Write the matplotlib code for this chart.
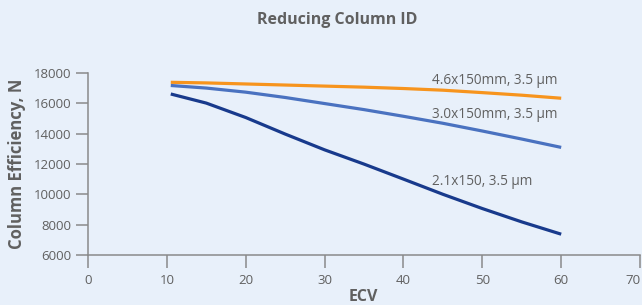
import matplotlib
matplotlib.use("Agg")
import matplotlib.pyplot as plt

# ============ DATOS ============
ECV = [10.5, 15, 20, 25, 30, 35, 40, 45, 50, 55, 60]
N_46 = [17380, 17340, 17270, 17200, 17130, 17060, 16970, 16860, 16700, 16530, 16330]
N_30 = [17170, 17000, 16730, 16380, 15980, 15580, 15140, 14680, 14170, 13640, 13090]
N_21 = [16610, 16010, 15060, 13970, 12930, 11990, 11000, 10000, 9060, 8180, 7370]

ETIQUETAS = ["4.6x150mm, 3.5 µm", "3.0x150mm, 3.5 µm", "2.1x150, 3.5 µm"]
ETIQ_X = [43.6, 43.6, 43.6]
ETIQ_Y = [17510, 15230, 10820]

X_TICKS = [0, 10, 20, 30, 40, 50, 60, 70]
Y_TICKS = [6000, 8000, 10000, 12000, 14000, 16000, 18000]
# ===============================

FONDO = "#e8f0fa"
GRIS = "#606060"
EJE = "#8a8a8a"

plt.rcParams["font.family"] = ["Open Sans", "DejaVu Sans"]

fig = plt.figure(figsize=(6.42, 3.05), dpi=100, facecolor=FONDO)
ax = fig.add_axes([0.137, 0.164, 0.860, 0.597], facecolor=FONDO)

ax.plot(ECV, N_46, color="#f7941d", lw=2.3, solid_capstyle="butt")
ax.plot(ECV, N_30, color="#4a72c0", lw=2.3, solid_capstyle="butt")
ax.plot(ECV, N_21, color="#183a8c", lw=2.3, solid_capstyle="butt")

for txt, x, y in zip(ETIQUETAS, ETIQ_X, ETIQ_Y):
    ax.text(x, y, txt, fontsize=9.8, color=GRIS, ha="left", va="center")

ax.set_xlim(0, 70)
ax.set_ylim(6000, 18000)
ax.set_xticks(X_TICKS)
ax.set_yticks(Y_TICKS)

for lado in ["top", "right"]:
    ax.spines[lado].set_visible(False)
for lado in ["left", "bottom"]:
    ax.spines[lado].set_color(EJE)
    ax.spines[lado].set_linewidth(1.1)

ax.tick_params(axis="both", colors=EJE, labelcolor=GRIS, labelsize=9.5,
               length=9, width=1.1)
ax.tick_params(axis="x", pad=5)
ax.tick_params(axis="y", pad=3)
# la ultima etiqueta (70) queda pegada al borde derecho
ax.get_xticklabels()[-1].set_horizontalalignment("right")

fig.text(0.525, 0.934, "Reducing Column ID", ha="center", va="center",
         fontsize=11.5, fontweight="bold", color=GRIS)
fig.text(0.027, 0.462, "Column Efficiency, N", ha="center", va="center",
         rotation=90, fontsize=12, fontweight="bold", color=GRIS)
fig.text(0.566, 0.025, "ECV", ha="center", va="center",
         fontsize=11.5, fontweight="bold", color=GRIS)

fig.savefig("out.png", dpi=100, facecolor=FONDO)
